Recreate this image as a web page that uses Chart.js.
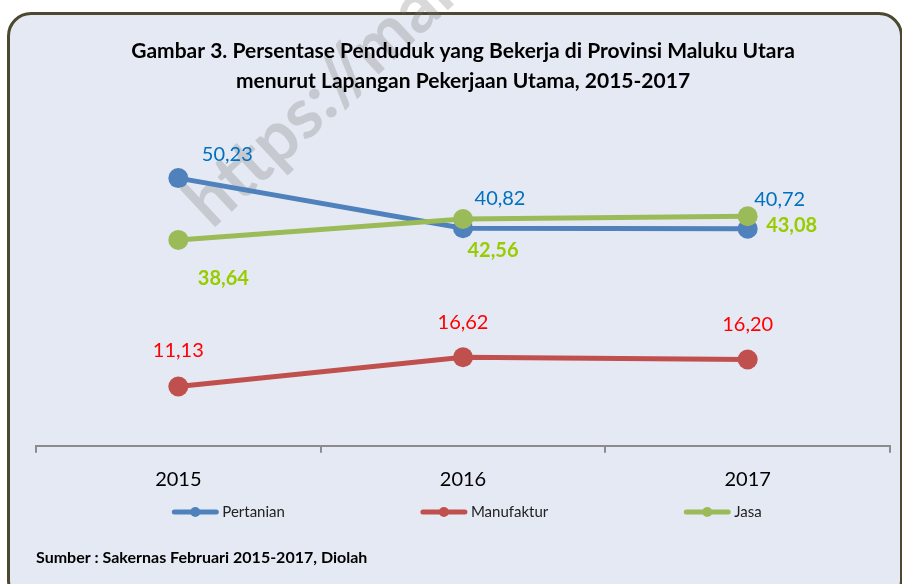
<!DOCTYPE html>
<html lang="id">
<head>
    <meta charset="UTF-8">
    <title>Persentase Penduduk yang Bekerja - Maluku Utara</title>
    <script src="https://cdn.jsdelivr.net/npm/chart.js"></script>
    <style>
        * {
            margin: 0;
            padding: 0;
            box-sizing: border-box;
        }
        body {
            width: 902px;
            height: 584px;
            overflow: hidden;
            position: relative;
            background: #ffffff;
            font-family: Lato, sans-serif;
        }
        .frame {
            position: absolute;
            left: 7px;
            top: 12px;
            width: 896px;
            height: 592px;
            border: 3px solid #4d4930;
            border-radius: 24px;
            background: #e5e9f3;
        }
        .chart-box {
            position: absolute;
            left: 0;
            top: 0;
            width: 902px;
            height: 584px;
        }
    </style>
</head>
<body>
    <div class="frame"></div>
    <div class="chart-box"><canvas id="workChart"></canvas></div>

    <script>
        // data
        const years = ['2015', '2016', '2017'];
        const seriesNames = ['Pertanian', 'Manufaktur', 'Jasa'];
        const pertanian = [50.23, 40.82, 40.72];
        const manufaktur = [11.13, 16.62, 16.20];
        const jasa = [38.64, 42.56, 43.08];

        const FONT = 'Lato, "Noto Sans", sans-serif';
        const lineColors = ['#4f81bd', '#c0504d', '#9bbb59'];
        const labelColors = ['#0070c0', '#ff0000', '#99cc00'];
        const labelBold = [false, false, true];
        // label offsets from each point (dx, dy)
        const labelOffsets = [
            [[49, -24], [37, -30], [32, -29]],
            [[0, -36], [0, -35], [0, -35]],
            [[45, 39], [30, 32], [44, 9]]
        ];

        function fmt(v) {
            return v.toFixed(2).replace('.', ',');
        }

        // faint watermark behind everything
        const watermark = {
            id: 'watermark',
            beforeDraw(chart) {
                const ctx = chart.ctx;
                ctx.save();
                ctx.translate(212, 230);
                ctx.rotate(-43 * Math.PI / 180);
                ctx.font = 'bold 70px ' + FONT;
                ctx.fillStyle = 'rgba(120, 120, 120, 0.28)';
                ctx.textBaseline = 'alphabetic';
                ctx.fillText('https://malutkab.bps.go.id', 0, 0);
                ctx.restore();
            }
        };

        // value labels next to the points
        const valueLabels = {
            id: 'valueLabels',
            afterDatasetsDraw(chart) {
                const ctx = chart.ctx;
                ctx.save();
                ctx.textAlign = 'center';
                ctx.textBaseline = 'middle';
                chart.data.datasets.forEach((ds, i) => {
                    const meta = chart.getDatasetMeta(i);
                    ctx.font = (labelBold[i] ? 'bold ' : '') + '20px ' + FONT;
                    ctx.fillStyle = labelColors[i];
                    meta.data.forEach((pt, j) => {
                        const off = labelOffsets[i][j];
                        ctx.fillText(fmt(ds.data[j]), pt.x + off[0], pt.y + off[1]);
                    });
                });
                ctx.restore();
            }
        };

        // legend with line + dot samples, spaced like the original
        const lineLegend = {
            id: 'lineLegend',
            afterDraw(chart) {
                const ctx = chart.ctx;
                const area = chart.chartArea;
                const y = chart.height - 72;
                const sample = 46, gap = 4, spacing = 136;
                ctx.save();
                ctx.font = '15px ' + FONT;
                const widths = seriesNames.map(n => sample + gap + ctx.measureText(n).width);
                const total = widths.reduce((a, b) => a + b, 0) + spacing * (widths.length - 1);
                let x = (area.left + area.right) / 2 + 4 - total / 2;
                seriesNames.forEach((name, i) => {
                    ctx.strokeStyle = lineColors[i];
                    ctx.lineWidth = 5;
                    ctx.lineCap = 'round';
                    ctx.beginPath();
                    ctx.moveTo(x + 2, y);
                    ctx.lineTo(x + sample - 2, y);
                    ctx.stroke();
                    ctx.fillStyle = lineColors[i];
                    ctx.beginPath();
                    ctx.arc(x + sample / 2, y, 5, 0, Math.PI * 2);
                    ctx.fill();
                    ctx.fillStyle = '#222';
                    ctx.textAlign = 'left';
                    ctx.textBaseline = 'middle';
                    ctx.fillText(name, x + sample + gap, y);
                    x += widths[i] + spacing;
                });
                ctx.restore();
            }
        };

        const seriesData = [pertanian, manufaktur, jasa];
        const datasets = seriesNames.map((name, i) => ({
            label: name,
            data: seriesData[i],
            borderColor: lineColors[i],
            backgroundColor: lineColors[i],
            pointBackgroundColor: lineColors[i],
            pointBorderWidth: 0,
            pointRadius: 10,
            borderWidth: 5,
            tension: 0,
            order: name === 'Jasa' ? 0 : 1
        }));

        new Chart(document.getElementById('workChart'), {
            type: 'line',
            data: { labels: years, datasets: datasets },
            options: {
                responsive: true,
                maintainAspectRatio: false,
                animation: false,
                layout: { padding: { left: 36, right: 12, top: 0, bottom: 9 } },
                plugins: {
                    legend: { display: false },
                    tooltip: { enabled: false },
                    title: {
                        display: true,
                        text: ['Gambar 3. Persentase Penduduk yang Bekerja di Provinsi Maluku Utara',
                               'menurut Lapangan Pekerjaan Utama, 2015-2017'],
                        color: '#000',
                        font: { family: FONT, size: 21, weight: 'bold', lineHeight: 1.43 },
                        padding: { top: 36, bottom: 30 }
                    },
                    subtitle: {
                        display: true,
                        position: 'bottom',
                        align: 'start',
                        text: 'Sumber : Sakernas Februari 2015-2017, Diolah',
                        color: '#000',
                        font: { family: FONT, size: 16, weight: 'bold' },
                        padding: { top: 41, bottom: 8 }
                    }
                },
                scales: {
                    x: {
                        offset: true,
                        grid: {
                            display: true,
                            drawOnChartArea: false,
                            drawTicks: true,
                            tickLength: 7,
                            offset: true,
                            color: '#8c8c8c',
                            lineWidth: 2
                        },
                        border: { display: true, color: '#8c8c8c', width: 2 },
                        ticks: { color: '#000', font: { family: FONT, size: 20 }, padding: 15 }
                    },
                    y: {
                        display: false,
                        min: 0,
                        max: 60
                    }
                }
            },
            plugins: [watermark, valueLabels, lineLegend]
        });
    </script>
</body>
</html>
